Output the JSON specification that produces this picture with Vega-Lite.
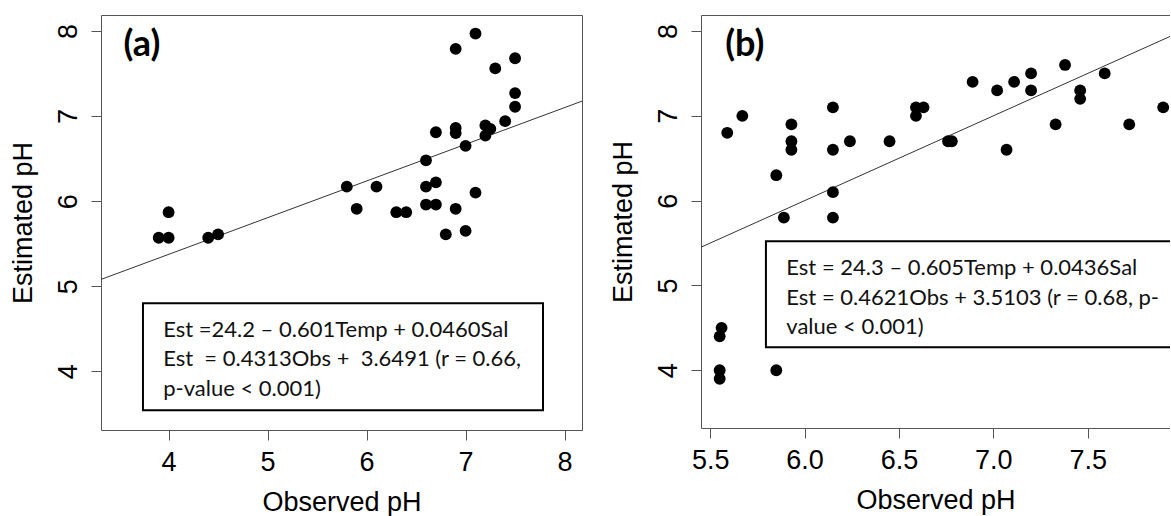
{
  "$schema": "https://vega.github.io/schema/vega-lite/v6.json",
  "padding": {"left": 8, "top": 14, "right": 0, "bottom": 0},
  "background": "white",
  "spacing": 26,
  "config": {
    "view": {"stroke": null},
    "axis": {"grid": false, "labelFont": "Liberation Sans", "labelFontSize": 27, "labelColor": "#000", "titleFont": "Liberation Sans", "titleFontSize": 27, "titleFontWeight": "normal", "titleColor": "#000", "tickColor": "#555", "tickSize": 10, "domainColor": "#555", "labelFlush": false, "labelOverlap": false},
    "axisX": {"labelPadding": 9, "titlePadding": 14},
    "axisY": {"labelAngle": -90, "labelAlign": "center", "labelBaseline": "alphabetic", "labelPadding": 15, "titlePadding": 17}
  },
  "datasets": {
    "ptsA": [
      {"x": 3.9, "y": 5.57}, {"x": 4.0, "y": 5.57}, {"x": 4.0, "y": 5.87}, {"x": 4.4, "y": 5.57}, {"x": 4.5, "y": 5.61},
      {"x": 5.8, "y": 6.17}, {"x": 5.9, "y": 5.91}, {"x": 6.1, "y": 6.17}, {"x": 6.3, "y": 5.87}, {"x": 6.4, "y": 5.87},
      {"x": 6.6, "y": 6.48}, {"x": 6.6, "y": 6.17}, {"x": 6.7, "y": 6.22}, {"x": 6.6, "y": 5.96}, {"x": 6.7, "y": 5.96},
      {"x": 6.7, "y": 6.81}, {"x": 6.8, "y": 5.61}, {"x": 6.9, "y": 7.79}, {"x": 6.9, "y": 6.86}, {"x": 6.9, "y": 6.8},
      {"x": 6.9, "y": 5.91}, {"x": 7.0, "y": 6.65}, {"x": 7.0, "y": 5.65}, {"x": 7.1, "y": 7.97}, {"x": 7.1, "y": 6.1},
      {"x": 7.2, "y": 6.89}, {"x": 7.2, "y": 6.77}, {"x": 7.25, "y": 6.85}, {"x": 7.3, "y": 7.56}, {"x": 7.4, "y": 6.94},
      {"x": 7.5, "y": 7.68}, {"x": 7.5, "y": 7.27}, {"x": 7.5, "y": 7.11}
    ],
    "ptsB": [
      {"x": 5.59, "y": 6.8}, {"x": 5.67, "y": 7.0}, {"x": 5.55, "y": 4.4}, {"x": 5.56, "y": 4.5}, {"x": 5.55, "y": 4.0},
      {"x": 5.55, "y": 3.9}, {"x": 5.85, "y": 6.3}, {"x": 5.85, "y": 4.0}, {"x": 5.89, "y": 5.8}, {"x": 5.93, "y": 6.9},
      {"x": 5.93, "y": 6.7}, {"x": 5.93, "y": 6.6}, {"x": 6.15, "y": 7.1}, {"x": 6.15, "y": 6.6}, {"x": 6.15, "y": 6.1},
      {"x": 6.15, "y": 5.8}, {"x": 6.24, "y": 6.7}, {"x": 6.45, "y": 6.7}, {"x": 6.59, "y": 7.0}, {"x": 6.59, "y": 7.1},
      {"x": 6.63, "y": 7.1}, {"x": 6.76, "y": 6.7}, {"x": 6.78, "y": 6.7}, {"x": 6.89, "y": 7.4}, {"x": 7.02, "y": 7.3},
      {"x": 7.07, "y": 6.6}, {"x": 7.11, "y": 7.4}, {"x": 7.2, "y": 7.5}, {"x": 7.2, "y": 7.3}, {"x": 7.33, "y": 6.9},
      {"x": 7.38, "y": 7.6}, {"x": 7.46, "y": 7.3}, {"x": 7.46, "y": 7.2}, {"x": 7.59, "y": 7.5}, {"x": 7.72, "y": 6.9},
      {"x": 7.9, "y": 7.1}
    ],
    "lineA": [{"x": 3.3, "y": 5.0724}, {"x": 8.2, "y": 7.1858}],
    "lineB": [{"x": 5.4, "y": 5.4}, {"x": 8.1, "y": 8.1}],
    "boxA": [{"x": 3.741, "x2": 7.782, "y": 4.80, "y2": 3.543}],
    "boxB": [{"x": 5.795, "x2": 8.2, "y": 5.522, "y2": 4.271}],
    "tagA": [{"x": 3.545, "y": 7.706, "label": "(a)"}],
    "tagB": [{"x": 5.579, "y": 7.705, "label": "(b)"}],
    "txtA": [
      {"x": 3.945, "y": 4.404, "label": "Est =24.2 – 0.601Temp + 0.0460Sal"},
      {"x": 3.945, "y": 4.063, "label": "Est \u00a0= 0.4313Obs + \u00a03.6491 (r = 0.66,"},
      {"x": 3.945, "y": 3.711, "label": "p-value < 0.001)"}
    ],
    "txtB": [
      {"x": 5.903, "y": 5.121, "label": "Est = 24.3 – 0.605Temp + 0.0436Sal"},
      {"x": 5.903, "y": 4.775, "label": "Est = 0.4621Obs + 3.5103 (r = 0.68, p-"},
      {"x": 5.903, "y": 4.428, "label": "value < 0.001)"}
    ]
  },
  "hconcat": [
    {
      "width": 481,
      "height": 415,
      "view": {"stroke": "#555", "strokeWidth": 1},
      "encoding": {
        "x": {"field": "x", "type": "quantitative", "scale": {"domain": [3.317, 8.176], "nice": false, "zero": false},
              "axis": {"values": [4, 5, 6, 7, 8], "format": "d", "title": "Observed pH", "domain": false}},
        "y": {"field": "y", "type": "quantitative", "scale": {"domain": [3.31, 8.188], "nice": false, "zero": false},
              "axis": {"values": [4, 5, 6, 7, 8], "format": "d", "title": "Estimated pH", "domain": false}}
      },
      "layer": [
        {"data": {"name": "boxA"}, "mark": {"type": "rect", "fill": "white", "stroke": "#000", "strokeWidth": 2},
         "encoding": {"x2": {"field": "x2"}, "y2": {"field": "y2"}}},
        {"data": {"name": "lineA"}, "mark": {"type": "line", "color": "#333", "strokeWidth": 1, "clip": true}},
        {"data": {"name": "ptsA"}, "mark": {"type": "circle", "size": 140, "color": "#000", "opacity": 1}},
        {"data": {"name": "tagA"}, "mark": {"type": "text", "font": "Lato", "fontWeight": "bold", "fontSize": 36, "align": "left", "baseline": "alphabetic", "color": "#000"},
         "encoding": {"text": {"field": "label"}}},
        {"data": {"name": "txtA"}, "mark": {"type": "text", "font": "Lato", "fontSize": 22, "align": "left", "baseline": "alphabetic", "color": "#111"},
         "encoding": {"text": {"field": "label"}}}
      ]
    },
    {
      "width": 469,
      "height": 413,
      "view": {"stroke": null},
      "encoding": {
        "y": {"field": "y", "type": "quantitative", "scale": {"domain": [3.319, 8.189], "nice": false, "zero": false},
              "axis": {"values": [4, 5, 6, 7, 8], "format": "d", "title": "Estimated pH", "domain": true}}
      },
      "layer": [
        {"data": {"name": "boxB"}, "mark": {"type": "rect", "fill": "white", "stroke": "#000", "strokeWidth": 2, "clip": true},
         "encoding": {
           "x": {"field": "x", "type": "quantitative", "scale": {"domain": [5.451, 7.936], "nice": false, "zero": false},
                 "axis": {"orient": "top", "labels": false, "ticks": false, "domain": true, "title": null}},
           "x2": {"field": "x2"}, "y2": {"field": "y2"}}},
        {"data": {"name": "lineB"}, "mark": {"type": "line", "color": "#333", "strokeWidth": 1, "clip": true},
         "encoding": {"x": {"field": "x", "type": "quantitative", "axis": null}}},
        {"data": {"name": "ptsB"}, "mark": {"type": "circle", "size": 140, "color": "#000", "opacity": 1},
         "encoding": {"x": {"field": "x", "type": "quantitative",
                 "axis": {"values": [5.5, 6, 6.5, 7, 7.5], "format": ".1f", "title": "Observed pH", "domain": true}}}},
        {"data": {"name": "tagB"}, "mark": {"type": "text", "font": "Lato", "fontWeight": "bold", "fontSize": 36, "align": "left", "baseline": "alphabetic", "color": "#000"},
         "encoding": {"x": {"field": "x", "type": "quantitative", "axis": null}, "text": {"field": "label"}}},
        {"data": {"name": "txtB"}, "mark": {"type": "text", "font": "Lato", "fontSize": 22, "align": "left", "baseline": "alphabetic", "color": "#111"},
         "encoding": {"x": {"field": "x", "type": "quantitative", "axis": null}, "text": {"field": "label"}}}
      ],
      "resolve": {"axis": {"x": "independent"}}
    }
  ]
}
